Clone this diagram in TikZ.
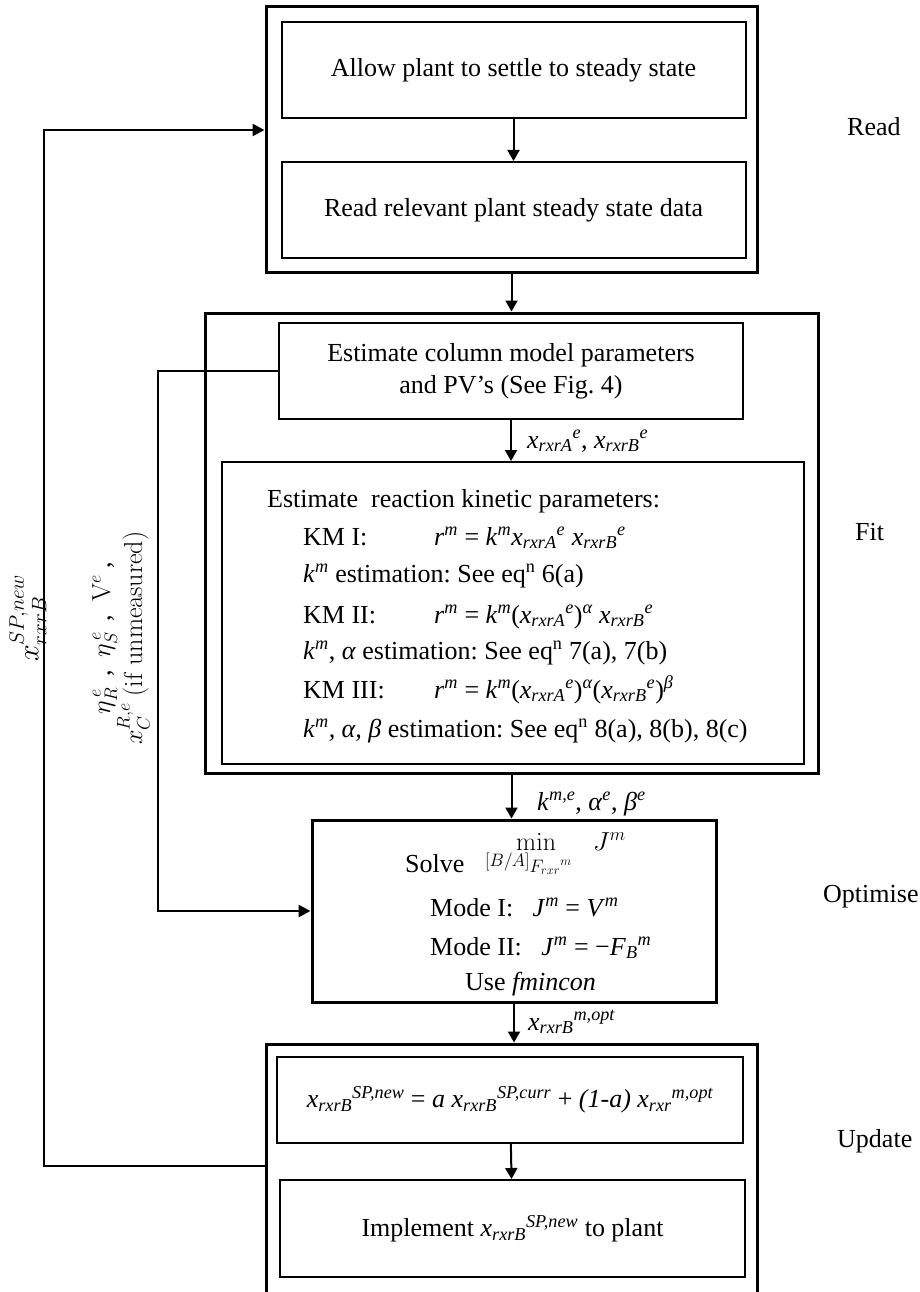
\RequirePackage{fix-cm}
\documentclass[tikz,border=0pt]{standalone}
\usepackage{amsmath}
\usepackage[no-math]{fontspec}
\setmainfont{Liberation Serif}
\usetikzlibrary{arrows.meta}
\frenchspacing
% italic symbol with a superscript
\newcommand{\su}[2]{\textit{#1}$^{\textit{#2}}$}
% italic symbol with subscript, then superscript set after it
\newcommand{\sx}[3]{\textit{#1}$_{\textit{#2}}{}^{\textit{#3}}$}
\begin{document}
\begin{tikzpicture}[x=1pt,y=-1pt,
  every node/.style={font=\fontsize{26}{32}\selectfont, inner sep=0pt},
  outer/.style={draw, line width=3pt},
  stepbox/.style={draw, line width=2pt, align=center},
  lbl/.style={anchor=base west},
  flow/.style={line width=2pt, -{Triangle[length=11pt,width=12pt]}},
  loopline/.style={line width=2.5pt, -{Triangle[length=12pt,width=12pt]}}]
\useasboundingbox (0,0) rectangle (919,1292);

% ---- Read stage ----
\node[outer, minimum width=491pt, minimum height=265pt] (readbox) at (511.5,139.5) {};
\node[stepbox, minimum width=464pt, minimum height=96pt] (allow) at (513.5,70)
  {Allow plant to settle to steady state};
\node[stepbox, minimum width=464pt, minimum height=96pt] (readdata) at (513.5,210)
  {Read relevant plant steady state data};
\draw[flow] (allow) -- (readdata);
\node[lbl] (lread) at (847,136) {Read};

% ---- Fit stage ----
\node[outer, minimum width=613pt, minimum height=460pt] (fitbox) at (511.5,543) {};
\node[stepbox, minimum width=464pt, minimum height=96pt] (colbox) at (511,371)
  {Estimate column model parameters\\and PV’s (See Fig.~4)};
\node[draw, line width=2pt, minimum width=582pt, minimum height=302pt] (kinbox) at (513,613) {};
\draw[flow] (readbox.south) -- (fitbox.north);
\draw[flow] (colbox.south) -- (colbox.south |- kinbox.north);
\node[lbl] (lxe) at (527,448) {\sx{x}{rxrA}{e}, \sx{x}{rxrB}{e}};
\node[lbl] (lfit) at (855,540) {Fit};

\node[lbl] (k0) at (267,507) {Estimate\ \ reaction kinetic parameters:};
\node[lbl] (k1) at (303,545) {KM I:};
\node[lbl] (k1f) at (434,545) {\su{r}{m} = \su{k}{m}\sx{x}{rxrA}{e} \sx{x}{rxrB}{e}};
\node[lbl] (k2) at (303,582) {\su{k}{m} estimation: See eq$^{\text{n}}$ 6(a)};
\node[lbl] (k3) at (303,623) {KM II:};
\node[lbl] (k3f) at (434,623) {\su{r}{m} = \su{k}{m}(\sx{x}{rxrA}{e})$^{\textit{α}}$ \sx{x}{rxrB}{e}};
\node[lbl] (k4) at (303,659) {\su{k}{m}, \textit{α} estimation: See eq$^{\text{n}}$ 7(a), 7(b)};
\node[lbl] (k5) at (303,698) {KM III:};
\node[lbl] (k5f) at (434,698) {\su{r}{m} = \su{k}{m}(\sx{x}{rxrA}{e})$^{\textit{α}}$(\sx{x}{rxrB}{e})$^{\textit{β}}$};
\node[lbl] (k6) at (303,737) {\su{k}{m}\textit{, α, β} estimation: See eq$^{\text{n}}$ 8(a), 8(b), 8(c)};

% ---- Optimise stage ----
\node[outer, minimum width=404pt, minimum height=182pt] (optbox) at (514,911) {};
\draw[flow] (fitbox.south) -- (fitbox.south |- optbox.north);
\node[lbl] (lke) at (537,810) {\su{k}{m,e}, \su{α}{e}, \su{β}{e}};
\node[lbl] (omin) at (516,850) {$\min$};
\node[lbl] (oj) at (593,850) {$J^m$};
\node[lbl] (osolve) at (405,872) {Solve};
\node[lbl, font=\fontsize{18}{20}\selectfont] (oset) at (485,866) {$[B/A]_{\textstyle F_{rxr}{}^{m}}$};
\node[lbl] (om1) at (430,916) {Mode I:\hspace{0.5em} \su{J}{m} = \su{V}{m}};
\node[lbl] (om2) at (430,955) {Mode II:\hspace{0.5em} \su{J}{m} = −\sx{F}{B}{m}};
\node[lbl] (ofm) at (465,990) {Use \textit{fmincon}};
\node[lbl] (lopt) at (823,902) {Optimise};

% ---- Update stage ----
\node[outer, minimum width=491pt, minimum height=276pt] (updbox) at (511.5,1182) {};
\draw[flow] (optbox.south) -- (optbox.south |- updbox.north);
\node[lbl] (lxo) at (528,1030) {\sx{x}{rxrB}{m,opt}};
\node[stepbox, minimum width=466pt, minimum height=86pt] (formbox) at (510,1100)
  {\sx{x}{rxrB}{SP,new} = \textit{a} \sx{x}{rxrB}{SP,curr} + \textit{(1-a)} \sx{x}{rxr}{m,opt}};
\node[stepbox, minimum width=465pt, minimum height=97pt] (implbox) at (512.5,1228.5)
  {Implement \sx{x}{rxrB}{SP,new} to plant};
\draw[flow] (formbox) -- (implbox);
\node[lbl] (lupd) at (837,1147) {Update};

% ---- feedback paths ----
\coordinate (ua) at (44,1166);
\coordinate (ub) at (44,130);
\draw[loopline] (updbox.west |- ua) -- (ua) -- (ub) -- (readbox.west |- ub);
\coordinate (fa) at (158,371);
\coordinate (fb) at (158,911);
\draw[loopline] (colbox.west) -- (fa) -- (fb) -- (optbox.west);

\node[rotate=90, font=\fontsize{30}{34}\selectfont] (lsp) at (28,618) {$x_{rxrB}^{SP,new}$};
\node[rotate=90, align=center] (leta) at (121,638)
  {$\eta_R^{\,e}$\,\ ,\ \ $\eta_S^{\,e}$\,\ ,\ \ $\mathrm{V}^{e}$\ ,\\$x_C^{R,e}$ $\mathrm{(if\ unmeasured)}$};
\end{tikzpicture}
\end{document}
